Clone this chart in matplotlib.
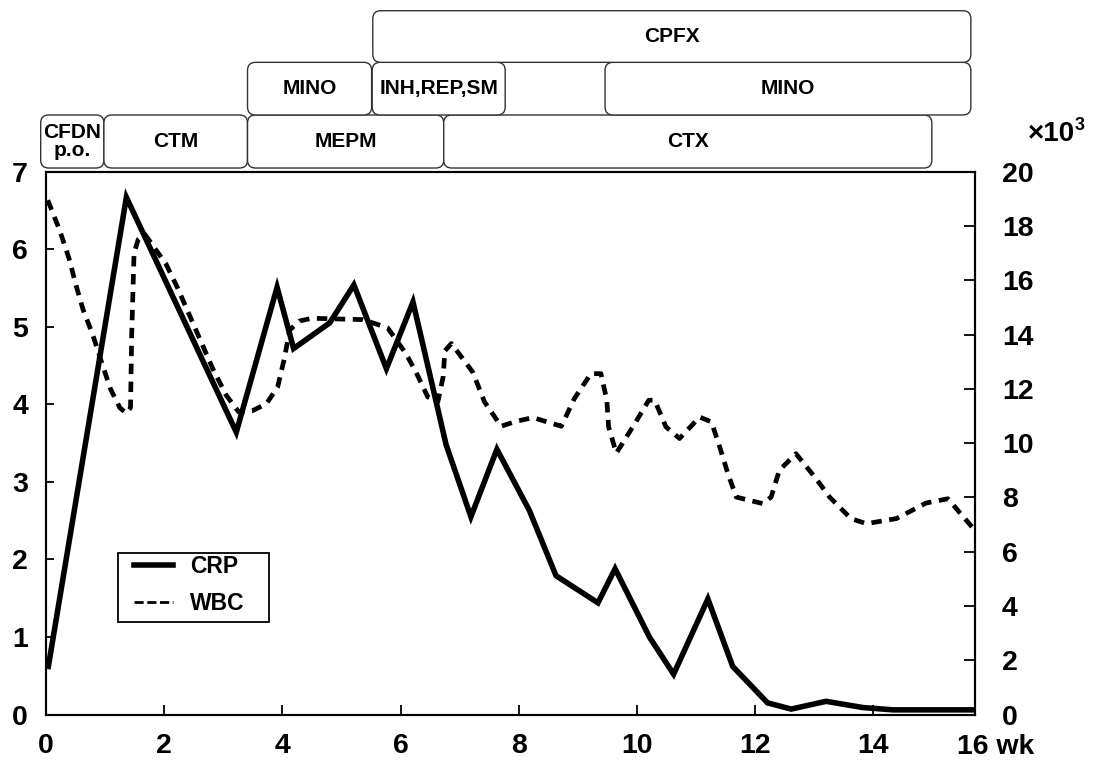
import matplotlib
matplotlib.use('Agg')
import matplotlib.pyplot as plt
import matplotlib.transforms as mtransforms
from matplotlib.patches import FancyBboxPatch, Rectangle
from matplotlib.lines import Line2D

# ---------------- data (weeks) ----------------
crp_weeks = [0.04, 1.36, 3.22, 3.91, 4.19, 4.80, 5.21, 5.76, 6.21, 6.77, 7.19, 7.63,
             8.18, 8.63, 9.34, 9.63, 10.21, 10.62, 11.20, 11.62, 12.21, 12.61, 13.20,
             13.82, 14.33, 15.67]
crp_values = [0.62, 6.67, 3.64, 5.51, 4.72, 5.05, 5.54, 4.46, 5.32, 3.48, 2.55, 3.42,
              2.63, 1.79, 1.44, 1.88, 1.00, 0.52, 1.49, 0.62, 0.15, 0.07, 0.17,
              0.09, 0.06, 0.06]

wbc_weeks = [0.03, 0.23, 0.39, 0.51, 0.63, 0.79, 0.93, 1.09, 1.25, 1.36, 1.43, 1.45,
             1.49, 1.56, 1.67, 2.03, 2.23, 2.43, 2.63, 2.82, 3.05, 3.26, 3.50, 3.73,
             3.92, 4.04, 4.12, 4.29, 4.50, 5.36, 5.78, 6.09, 6.26, 6.46, 6.63, 6.72,
             6.75, 6.86, 7.22, 7.42, 7.70, 7.95, 8.24, 8.72, 8.94, 9.22, 9.39, 9.49,
             9.52, 9.65, 9.93, 10.20, 10.30, 10.49, 10.72, 11.06, 11.26, 11.40, 11.54,
             11.68, 12.13, 12.27, 12.41, 12.69, 13.03, 13.26, 13.62, 13.88, 14.39,
             14.89, 15.26, 15.67]
wbc_values = [18.95, 17.85, 16.8, 15.8, 14.9, 14.0, 13.05, 12.0, 11.3, 11.1, 11.3, 14.0,
              17.0, 17.5, 17.7, 16.6, 15.7, 14.7, 13.7, 12.75, 11.76, 11.15, 11.2, 11.45,
              12.07, 13.18, 14.16, 14.5, 14.6, 14.55, 14.25, 13.3, 12.62, 11.7, 11.52, 12.44,
              13.4, 13.67, 12.62, 11.52, 10.62, 10.8, 10.94, 10.62, 11.64, 12.56, 12.56, 11.58,
              10.6, 9.63, 10.6, 11.58, 11.58, 10.6, 10.17, 10.96, 10.78, 9.86, 8.87,
              8.01, 7.77, 8.01, 9.0, 9.61, 8.69, 8.01, 7.22, 7.03, 7.22,
              7.79, 7.95, 6.91]  # x10^3

x_ticks = [0, 2, 4, 6, 8, 10, 12, 14]
x_end = 15.72
x_end_label = '16 wk'
left_ticks = [0, 1, 2, 3, 4, 5, 6, 7]
right_ticks = [0, 2, 4, 6, 8, 10, 12, 14, 16, 18, 20]

treat_names = ['CFDN\np.o.', 'CTM', 'MEPM', 'CTX', 'MINO', 'INH,REP,SM', 'MINO', 'CPFX']
treat_start = [-0.09, 0.98, 3.41, 6.73, 3.41, 5.52, 9.46, 5.53]
treat_end = [0.98, 3.41, 6.73, 14.99, 5.51, 7.77, 15.65, 15.65]
treat_row = [0, 0, 0, 0, 1, 1, 1, 2]

# ---------------- style ----------------
plt.rcParams['font.family'] = ['Liberation Sans', 'DejaVu Sans']
plt.rcParams['font.weight'] = 'bold'

TICK_FS = 20.5

fig = plt.figure(figsize=(10.93, 7.61), dpi=100)
ax = fig.add_axes([0.04209, 0.06110, 0.84995, 0.71327])
ax2 = ax.twinx()

ax.plot(crp_weeks, crp_values, color='black', lw=4.0, solid_joinstyle='miter')
ax2.plot(wbc_weeks, wbc_values, color='black', lw=3.4, linestyle=(0, (2.2, 1.6)))

# treatment boxes above the plot
tr = mtransforms.blended_transform_factory(ax.transData, ax.transAxes)
row_bounds = [(1.0068, 1.1045), (1.1045, 1.2015), (1.2015, 1.2966)]
r_x = 0.135
r_y = 0.0147
for name, s, e, r in zip(treat_names, treat_start, treat_end, treat_row):
    y0, y1 = row_bounds[r]
    p = FancyBboxPatch((s, y0), e - s, y1 - y0,
                       boxstyle='round,pad=0,rounding_size=%f' % r_x,
                       mutation_aspect=r_y / r_x, transform=tr, clip_on=False,
                       facecolor='white', edgecolor='#333333', lw=1.0)
    ax.add_patch(p)
    ax.text((s + e) / 2, (y0 + y1) / 2, name, transform=tr, ha='center', va='center',
            fontsize=15, fontweight='bold', linespacing=0.92, clip_on=False)

ax.set_xlim(0, x_end)
ax.set_ylim(0, 7)
ax2.set_ylim(0, 20)

ax.set_xticks(x_ticks + [x_end])
ax.set_xticklabels([str(t) for t in x_ticks] + [''])
ax.set_yticks(left_ticks)
ax.set_yticklabels([str(t) for t in left_ticks])
ax2.set_yticks(right_ticks)
ax2.set_yticklabels([str(t) for t in right_ticks])

ax.tick_params(axis='x', direction='in', length=7, width=1.3, pad=13, labelsize=TICK_FS)
ax.tick_params(axis='y', direction='in', length=6, width=1.3, pad=13, labelsize=TICK_FS)
ax2.tick_params(axis='y', direction='in', length=8, width=1.3, pad=19.5, labelsize=TICK_FS)
for a in (ax, ax2):
    for sp in a.spines.values():
        sp.set_linewidth(1.5)

# "16 wk" at the right end of the time axis
ax.annotate(x_end_label, xy=(1, 0), xycoords='axes fraction', xytext=(-13, -23.5),
            textcoords='offset points', ha='left', va='center', fontsize=TICK_FS,
            fontweight='bold')
# x10^3 unit for the right axis
ax.annotate('×10', xy=(1, 1), xycoords='axes fraction', xytext=(38, 27),
            textcoords='offset points', ha='left', va='center', fontsize=20,
            fontweight='bold')
ax.annotate('3', xy=(1, 1), xycoords='axes fraction', xytext=(71.5, 33),
            textcoords='offset points', ha='left', va='center', fontsize=13,
            fontweight='bold')

# legend
handles = [Line2D([], [], color='black', lw=4.0),
           Line2D([], [], color='black', lw=2.0, linestyle=(0, (3.3, 1.3)))]
leg = ax2.legend(handles, ['CRP', 'WBC'], loc='upper left',
                 bbox_to_anchor=(0.0947, 0.2938), bbox_transform=ax.transAxes,
                 frameon=False, borderpad=0, borderaxespad=0,
                 prop={'size': 16.5, 'weight': 'bold'}, handlelength=1.7,
                 handletextpad=0.75, labelspacing=0.6)
ax2.add_patch(Rectangle((0.0770, 0.1704), 0.2400 - 0.0770, 0.2975 - 0.1704,
                        transform=ax.transAxes, fill=False, edgecolor='black',
                        lw=1.3, clip_on=False))

fig.savefig('out.png', dpi=100, facecolor='white')
